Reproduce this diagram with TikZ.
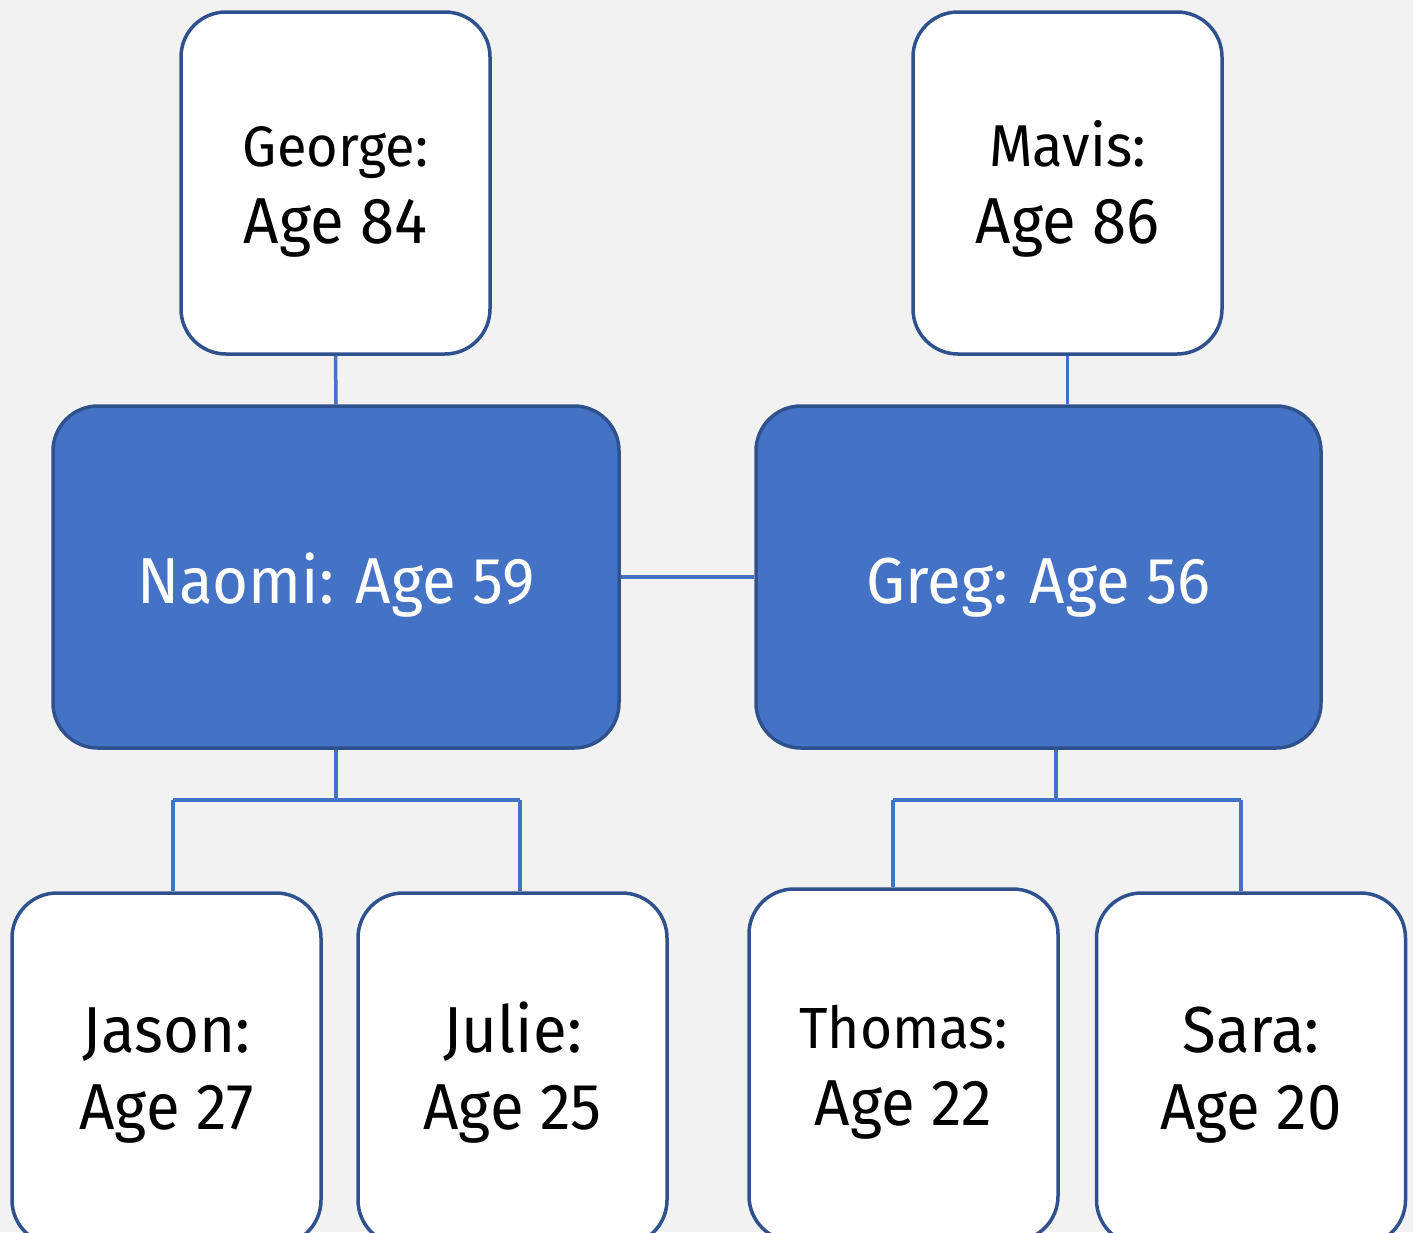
\documentclass[tikz,border=0pt]{standalone}
\usepackage{fontspec}
\setmainfont[FakeStretch=0.95]{Fira Sans}
\definecolor{bg}{HTML}{F2F2F2}
\definecolor{blu}{HTML}{4472C4}
\definecolor{edge}{HTML}{2F528F}
\tikzset{
  whitebox/.style={draw=edge, line width=3.5pt, fill=white, rounded corners=45pt,
    minimum width=309pt, minimum height=342pt, align=center, inner sep=0pt, text=black,
    text height=120pt, text depth=0pt, font=\fontsize{65}{77}\selectfont},
  bluebox/.style={draw=edge, line width=3.5pt, fill=blu, rounded corners=45pt,
    minimum width=566pt, minimum height=342pt, align=center, inner sep=0pt, text=white,
    text height=52pt, text depth=0pt, font=\fontsize{65}{77}\selectfont},
  conn/.style={draw=blu, line width=3.5pt},
}
\begin{document}
\begin{tikzpicture}[x=1pt,y=-1pt]
\useasboundingbox (0,0) rectangle (1413,1232);
\fill[bg] (0,0) rectangle (1413,1232);
\clip (0,0) rectangle (1413,1232);
\node[whitebox] (george) at (335.5,183) {{\fontsize{57}{77}\selectfont George:}\\Age 84};
\node[whitebox] (mavis) at (1067.5,183) {{\fontsize{59}{77}\selectfont Mavis:}\\Age 86};
\node[bluebox] (naomi) at (336,577) {Naomi: Age 59};
\node[bluebox, minimum width=565pt] (greg) at (1038.5,577) {Greg: Age 56};
\node[whitebox, minimum height=352pt] (jason) at (166.5,1069) {Jason:\\Age 27};
\node[whitebox, minimum height=352pt] (julie) at (512.5,1069) {Julie:\\Age 25};
\node[whitebox, minimum height=352pt] (thomas) at (903.5,1065) {{\fontsize{58}{77}\selectfont Thomas:}\\Age 22};
\node[whitebox, minimum height=352pt] (sara) at (1251,1069) {Sara:\\Age 20};
\coordinate (nj) at (336,800);
\coordinate (jl) at (173,800);
\coordinate (jr) at (520,800);
\coordinate (gj) at (1056,800);
\coordinate (tl) at (893,800);
\coordinate (sr) at (1241,800);
\draw[conn] (george.south) -- (naomi.north);
\draw[conn] (mavis.south) -- (mavis.south |- greg.north);
\draw[conn] (naomi.east) -- (greg.west);
\draw[conn] (naomi.south) -- (nj);
\draw[conn] (jl) -- (jr);
\draw[conn] (jl) -- (jl |- jason.north);
\draw[conn] (jr) -- (jr |- julie.north);
\draw[conn] (gj |- greg.south) -- (gj);
\draw[conn] (tl) -- (sr);
\draw[conn] (tl) -- (tl |- thomas.north);
\draw[conn] (sr) -- (sr |- sara.north);
\end{tikzpicture}
\end{document}
